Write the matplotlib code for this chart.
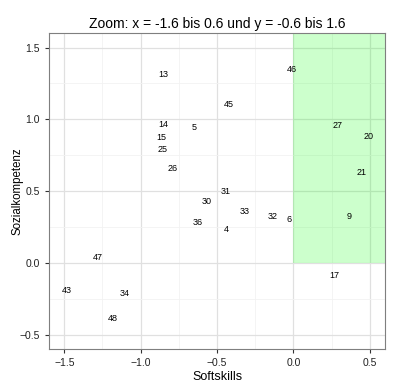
import matplotlib.pyplot as plt
import numpy as np
from matplotlib.patches import Rectangle

plt.rcParams['font.family'] = ['Liberation Sans', 'DejaVu Sans']

# Punkte (Softskills, Sozialkompetenz) und Beschriftung
ids = ["13", "46", "45", "14", "5", "15", "25", "27", "20", "26", "21",
       "31", "30", "33", "32", "6", "9", "36", "4", "47", "17", "43",
       "34", "48"]
softskills = [-0.85, -0.01, -0.42, -0.85, -0.65, -0.865, -0.855, 0.29, 0.49,
              -0.79, 0.445, -0.445, -0.57, -0.32, -0.135, -0.03, 0.366,
              -0.625, -0.44, -1.28, 0.265, -1.485, -1.105, -1.18]
sozial = [1.31, 1.35, 1.10, 0.965, 0.94, 0.87, 0.79, 0.96, 0.88, 0.66, 0.63,
          0.50, 0.43, 0.36, 0.32, 0.30, 0.32, 0.28, 0.23, 0.04, -0.09, -0.19,
          -0.21, -0.39]

xlim = (-1.6, 0.6)
ylim = (-0.6, 1.6)

fig = plt.figure(figsize=(4, 3.9), dpi=100)
ax = fig.add_axes([0.1225, 0.105, 0.84, 0.81])

ax.set_xlim(xlim)
ax.set_ylim(ylim)

ax.set_xticks([-1.5, -1.0, -0.5, 0.0, 0.5])
ax.set_yticks([-0.5, 0.0, 0.5, 1.0, 1.5])
ax.set_xticks([-1.25, -0.75, -0.25, 0.25], minor=True)
ax.set_yticks([-0.25, 0.25, 0.75, 1.25], minor=True)
ax.grid(which="major", color="#e0e0e0", linewidth=0.9)
ax.grid(which="minor", color="#f2f2f2", linewidth=0.6)
ax.set_axisbelow(True)
ax.tick_params(which="minor", length=0)
ax.tick_params(which="major", length=3, color="#333333", labelsize=7.5,
               labelcolor="#222222")

# grüner Bereich: x > 0 und y > 0
ax.add_patch(Rectangle((0, 0), xlim[1], ylim[1], facecolor="#00ff00",
                       alpha=0.2, edgecolor="none", zorder=1.5))

for lab, x, y in zip(ids, softskills, sozial):
    ax.text(x, y, lab, ha="center", va="center", fontsize=6.5, zorder=3)

for s in ax.spines.values():
    s.set_color("#7f7f7f")

ax.set_title("Zoom: x = -1.6 bis 0.6 und y = -0.6 bis 1.6", fontsize=10, pad=4)
ax.set_xlabel("Softskills", fontsize=9, labelpad=2)
ax.set_ylabel("Sozialkompetenz", fontsize=8.3, labelpad=-3)

fig.savefig("out.png", dpi=100)
